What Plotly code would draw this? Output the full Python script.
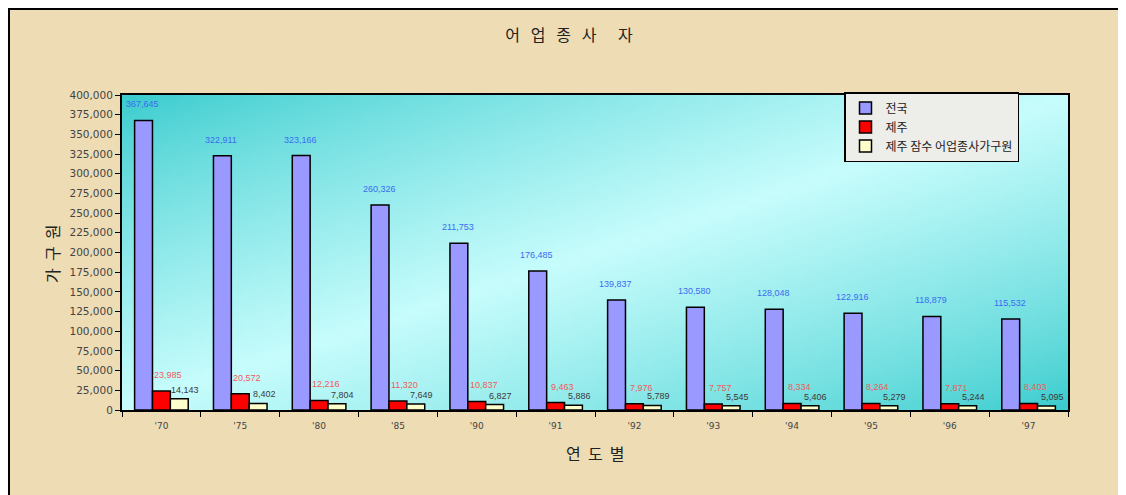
import base64
import struct
import zlib

import plotly.graph_objects as go

years = ["'70", "'75", "'80", "'85", "'90", "'91", "'92", "'93", "'94", "'95", "'96", "'97"]
nationwide = [367645, 322911, 323166, 260326, 211753, 176485, 139837, 130580, 128048, 122916, 118879, 115532]
jeju = [23985, 20572, 12216, 11320, 10837, 9463, 7976, 7757, 8334, 8264, 7871, 8403]
jeju_divers = [14143, 8402, 7804, 7649, 6827, 5886, 5789, 5545, 5406, 5279, 5244, 5095]

series_names = ["전국", "제주", "제주 잠수 어업종사가구원"]
bar_colors = ["#9999FF", "#FF0000", "#FFFFCC"]
label_colors = ["#3B6CF0", "#F25A5A", "#3A3A3A"]

KR_FONT = "Noto Sans CJK KR"
# the page has an 8px body margin, so the figure starts at screen (8, 8)
OFF = 8
W, H = 1126 - OFF, 495 - OFF
PLOT_L, PLOT_R, PLOT_T, PLOT_B = 122, 1068, 95, 410   # screen pixels
M_L, M_R = PLOT_L - OFF, W - (PLOT_R - OFF)
M_T, M_B = PLOT_T - OFF, H - (PLOT_B - OFF)


def _gradient_png(w=96, h=48):
    """Diagonal teal -> light cyan -> teal gradient as a PNG data uri."""
    dark = (58, 204, 206)
    light = (200, 253, 253)
    rows = []
    for j in range(h):
        row = bytearray([0])
        for i in range(w):
            t = (i / (w - 1) + j / (h - 1)) / 2
            k = (1 - abs(2 * t - 1)) ** 0.8
            row += bytes(int(d + (l - d) * k) for d, l in zip(dark, light))
        rows.append(bytes(row))
    raw = b"".join(rows)

    def chunk(tag, data):
        c = struct.pack(">I", len(data)) + tag + data
        return c + struct.pack(">I", zlib.crc32(tag + data) & 0xFFFFFFFF)

    png = b"\x89PNG\r\n\x1a\n"
    png += chunk(b"IHDR", struct.pack(">IIBBBBB", w, h, 8, 2, 0, 0, 0))
    png += chunk(b"IDAT", zlib.compress(raw, 9))
    png += chunk(b"IEND", b"")
    return "data:image/png;base64," + base64.b64encode(png).decode()


pw = PLOT_R - PLOT_L
ph = PLOT_B - PLOT_T


def px_x(p):
    return (p - PLOT_L) / pw


def px_y(p):
    return (PLOT_B - p) / ph


fig = go.Figure()
all_values = [nationwide, jeju, jeju_divers]
for name, values, color in zip(series_names, all_values, bar_colors):
    fig.add_trace(go.Bar(x=years, y=values, name=name,
                         marker=dict(color=color, line=dict(color="black", width=1.5))))

# value labels above each bar
step = pw / len(years) * 0.68 / 3
x_offsets = [-step - 1, 7, step + 6]
y_offsets = [9, 9, 2]
for values, color, dx, dy in zip(all_values, label_colors, x_offsets, y_offsets):
    for yr, v in zip(years, values):
        fig.add_annotation(x=yr, y=v, text=f"{v:,}", showarrow=False,
                           xshift=dx, yshift=dy, yanchor="bottom",
                           font=dict(family="Liberation Sans, Arial", size=9, color=color))

# outer frame and the white strip right of it
fig.add_shape(type="rect", xref="paper", yref="paper",
              x0=px_x(1120), x1=px_x(1130), y0=px_y(500), y1=px_y(0),
              fillcolor="white", line=dict(width=0), layer="below")
fig.add_shape(type="rect", xref="paper", yref="paper",
              x0=px_x(9), x1=px_x(1120), y0=px_y(500), y1=px_y(9),
              line=dict(color="black", width=2), layer="above")

fig.add_layout_image(source=_gradient_png(), xref="paper", yref="paper",
                     x=0, y=1, sizex=1, sizey=1, sizing="stretch",
                     xanchor="left", yanchor="top", layer="below")

# axis titles
fig.add_annotation(xref="paper", yref="paper", x=px_x(52), y=px_y(254),
                   xanchor="center", yanchor="middle",
                   text="가  구  원", textangle=-90, showarrow=False,
                   font=dict(family=KR_FONT, size=16, color="#222222"))
fig.add_annotation(xref="paper", yref="paper", x=px_x(595), y=px_y(453),
                   xanchor="center", yanchor="middle",
                   text="연  도  별", showarrow=False,
                   font=dict(family=KR_FONT, size=16, color="#222222"))

fig.update_layout(
    width=W, height=H,
    margin=dict(l=M_L, r=M_R, t=M_T, b=M_B),
    title=dict(text="어   업   종   사      자", x=(569 - OFF) / W, xanchor="center",
               y=1 - (35 - OFF) / H, yanchor="middle",
               font=dict(family=KR_FONT, size=16, color="#222222")),
    paper_bgcolor="#EEDCB4",
    plot_bgcolor="rgba(0,0,0,0)",
    barmode="group",
    bargap=0.32,
    bargroupgap=0,
    showlegend=True,
    legend=dict(x=px_x(1019), y=px_y(92), xanchor="right", yanchor="top",
                bgcolor="#EDEDEA", bordercolor="black", borderwidth=1.5,
                font=dict(family=KR_FONT, size=12, color="#222222"),
                itemwidth=30, tracegroupgap=0),
    xaxis=dict(showgrid=False, showline=True, linecolor="black", linewidth=2, mirror=True,
               ticks="outside", tickson="boundaries", ticklen=5, tickcolor="black",
               ticklabelstandoff=6,
               tickfont=dict(family="DejaVu Sans", size=9, color="#444444")),
    yaxis=dict(range=[0, 400000], dtick=25000, tickformat=",", showgrid=False,
               showline=True, linecolor="black", linewidth=2, mirror=True,
               ticks="outside", ticklen=5, tickcolor="black", zeroline=False,
               tickfont=dict(family="DejaVu Sans", size=10.5, color="#444444")),
)

fig.write_html("out.html")
